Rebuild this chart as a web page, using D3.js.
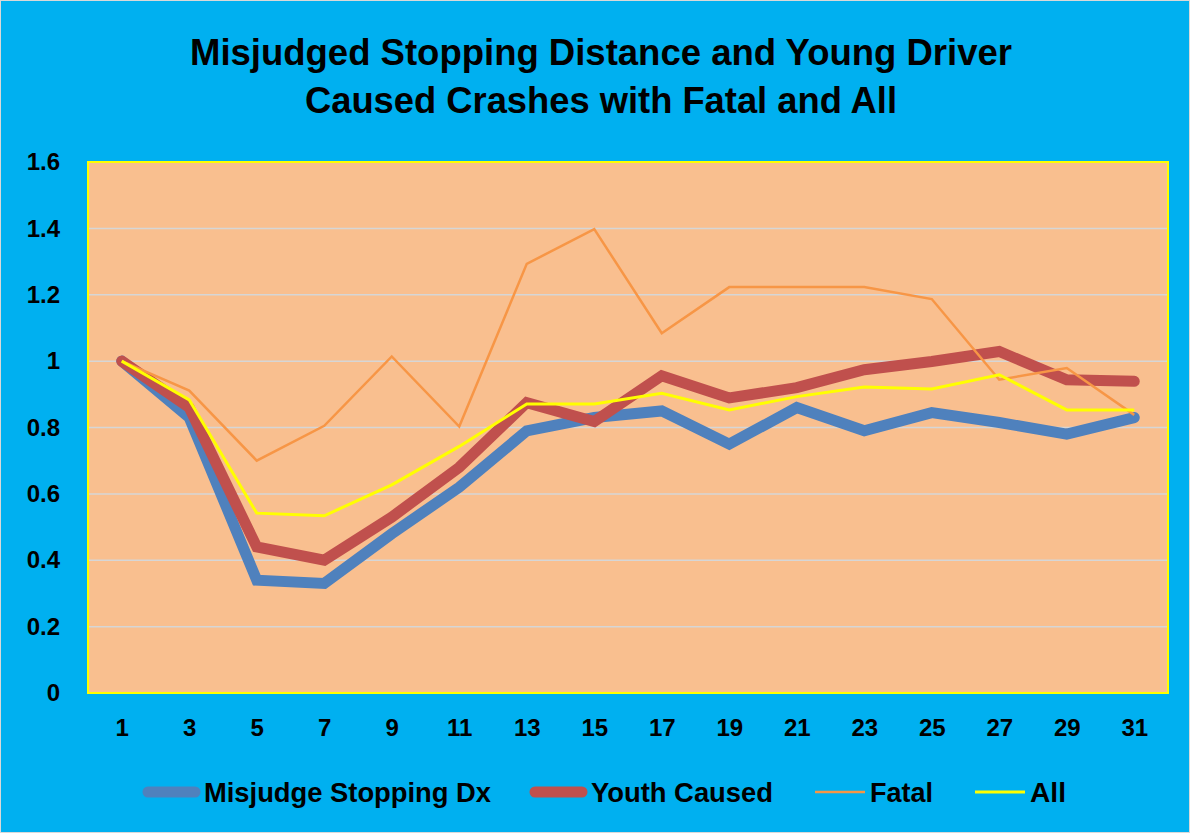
<!DOCTYPE html>
<html lang="en">
  <head>
    <meta charset="utf-8">
    <script src="https://d3js.org/d3.v7.min.js"></script>
    <style>
      body {margin: 0; background: #fff;}
      text {font-family: "Liberation Sans", Arial, sans-serif; font-weight: bold; fill: #000;}
    </style>
  </head>
  <body>
    <script type="text/javascript">
      // chart data
      const categories = ["1","3","5","7","9","11","13","15","17","19","21","23","25","27","29","31"];
      const misjudge = [1.0, 0.83, 0.34, 0.33, 0.48, 0.62, 0.79, 0.83, 0.85, 0.75, 0.86, 0.79, 0.845, 0.815, 0.78, 0.83];
      const youth = [1.0, 0.86, 0.44, 0.40, 0.53, 0.68, 0.875, 0.818, 0.956, 0.889, 0.92, 0.974, 0.999, 1.029, 0.944, 0.939];
      const fatal = [1.0, 0.911, 0.70, 0.805, 1.014, 0.803, 1.293, 1.398, 1.084, 1.223, 1.223, 1.223, 1.187, 0.944, 0.979, 0.838];
      const all = [1.0, 0.883, 0.542, 0.534, 0.627, 0.743, 0.871, 0.871, 0.903, 0.853, 0.893, 0.922, 0.916, 0.959, 0.853, 0.853];
      const yTicks = [0, 0.2, 0.4, 0.6, 0.8, 1, 1.2, 1.4, 1.6];

      const series = [
        {name: "Misjudge Stopping Dx", values: misjudge, color: "#4F81BD", width: 11, lx: 143, tl: 287},
        {name: "Youth Caused", values: youth, color: "#C0504D", width: 11, lx: 530, tl: 182},
        {name: "Fatal", values: fatal, color: "#F79646", width: 2.5, lx: 815, tl: 63},
        {name: "All", values: all, color: "#FFFF00", width: 3, lx: 975, tl: 36}
      ];

      const w = 1190;
      const h = 833;
      const plot = {left: 88, top: 162, right: 1168, bottom: 693};

      const svg = d3.select("body")
            .append("svg")
            .attr("width", w)
            .attr("height", h);

      // background
      svg.append("rect")
          .attr("x", 0.5).attr("y", 0.5)
          .attr("width", w - 1).attr("height", h - 1)
          .attr("fill", "#00B0F0")
          .attr("stroke", "#D9D9D9");

      // title
      const title = ["Misjudged Stopping Distance and Young Driver", "Caused Crashes with Fatal and All"];
      const titleLen = [822, 592];
      svg.selectAll(".title")
          .data(title)
          .enter()
          .append("text")
          .attr("class", "title")
          .attr("x", w / 2 + 6)
          .attr("y", (d, i) => 65 + i * 48)
          .attr("text-anchor", "middle")
          .attr("font-size", 37)
          .attr("textLength", (d, i) => titleLen[i])
          .attr("lengthAdjust", "spacingAndGlyphs")
          .text(d => d);

      // scales
      const x = d3.scalePoint()
          .domain(categories)
          .range([plot.left, plot.right])
          .padding(0.5);
      const y = d3.scaleLinear()
          .domain([0, 1.6])
          .range([plot.bottom, plot.top]);

      // plot area
      svg.append("rect")
          .attr("x", plot.left).attr("y", plot.top)
          .attr("width", plot.right - plot.left)
          .attr("height", plot.bottom - plot.top)
          .attr("fill", "#F9BF8F");

      // gridlines
      svg.append("g")
          .selectAll("line")
          .data(yTicks.slice(1, -1))
          .enter()
          .append("line")
          .attr("x1", plot.left).attr("x2", plot.right)
          .attr("y1", d => y(d)).attr("y2", d => y(d))
          .attr("stroke", "#D6D6D6")
          .attr("stroke-width", 1.5);

      svg.append("rect")
          .attr("x", plot.left).attr("y", plot.top)
          .attr("width", plot.right - plot.left)
          .attr("height", plot.bottom - plot.top)
          .attr("fill", "none")
          .attr("stroke", "#FFFF00")
          .attr("stroke-width", 2);

      // y axis
      const yAxis = d3.axisLeft(y)
          .tickValues(yTicks)
          .tickFormat(d3.format("~g"))
          .tickSize(0)
          .tickPadding(28);
      const gy = svg.append("g")
          .attr("transform", "translate(" + plot.left + ",0)")
          .call(yAxis);
      gy.select(".domain").remove();
      gy.selectAll("text")
          .attr("font-size", 24)
          .attr("font-family", null)
          .attr("fill", "#000");

      // x axis
      const xAxis = d3.axisBottom(x)
          .tickSize(0)
          .tickPadding(26);
      const gx = svg.append("g")
          .attr("transform", "translate(0," + plot.bottom + ")")
          .call(xAxis);
      gx.select(".domain").remove();
      gx.selectAll("text")
          .attr("font-size", 24)
          .attr("font-family", null)
          .attr("fill", "#000");

      // lines
      const line = d3.line()
          .x((d, i) => x(categories[i]))
          .y(d => y(d));

      svg.append("g")
          .selectAll("path")
          .data(series)
          .enter()
          .append("path")
          .attr("d", d => line(d.values))
          .attr("fill", "none")
          .attr("stroke", d => d.color)
          .attr("stroke-width", d => d.width)
          .attr("stroke-linejoin", "miter")
          .attr("stroke-linecap", d => d.width > 5 ? "round" : "butt");

      // legend
      const legend = svg.append("g")
          .selectAll("g")
          .data(series)
          .enter()
          .append("g")
          .attr("transform", d => "translate(" + d.lx + ",792)");
      legend.append("line")
          .attr("x1", d => d.width > 5 ? 5 : 0)
          .attr("x2", d => d.width > 5 ? 52 : 50)
          .attr("stroke", d => d.color)
          .attr("stroke-width", d => d.width)
          .attr("stroke-linecap", d => d.width > 5 ? "round" : "butt");
      legend.append("text")
          .attr("x", d => d.width > 5 ? 61 : 55)
          .attr("y", 10)
          .attr("font-size", 27)
          .attr("textLength", d => d.tl)
          .attr("lengthAdjust", "spacingAndGlyphs")
          .text(d => d.name);
    </script>
  </body>
</html>
